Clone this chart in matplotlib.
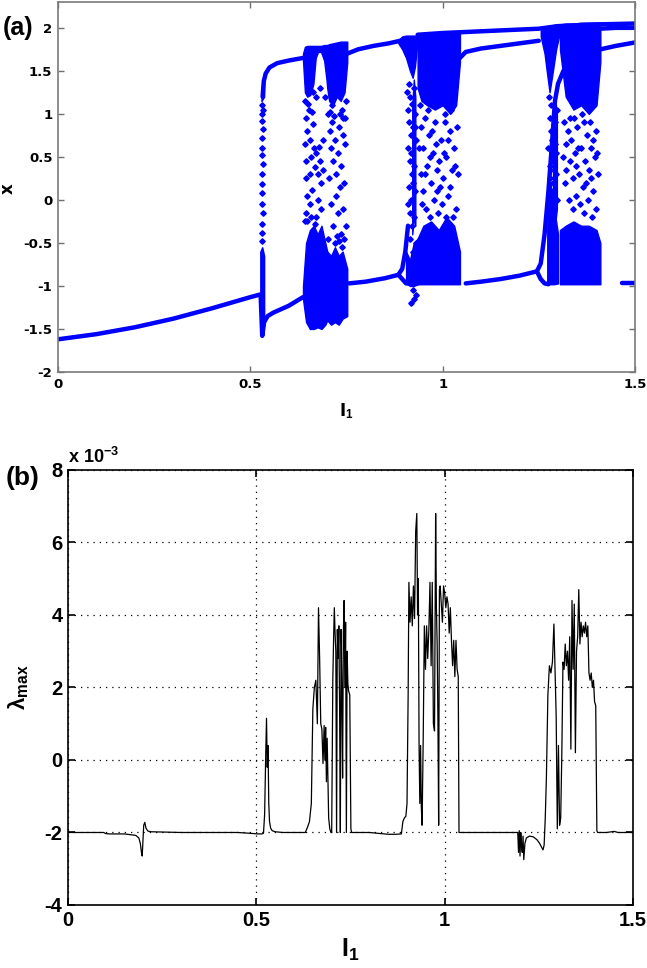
import matplotlib
matplotlib.use("Agg")
import matplotlib.pyplot as plt

plt.rcParams["mathtext.fontset"] = "custom"
plt.rcParams["mathtext.rm"] = "Liberation Sans:bold"
plt.rcParams["mathtext.bf"] = "Liberation Sans:bold"
plt.rcParams["mathtext.it"] = "Liberation Sans:bold"
plt.rcParams["mathtext.default"] = "bf"

BLUE = "#0000FF"

# ---------------- (a) bifurcation diagram: periodic branches ----------------
br_low1_x = [0.000, 0.100, 0.200, 0.300, 0.400, 0.500, 0.525]
br_low1_y = [-1.62, -1.56, -1.48, -1.38, -1.26, -1.13, -1.10]
br_low2_x = [0.527, 0.531, 0.536, 0.545, 0.560, 0.600, 0.637]
br_low2_y = [-1.12, -1.58, -1.42, -1.35, -1.31, -1.23, -1.13]
br_up1_x = [0.532, 0.535, 0.540, 0.550, 0.570, 0.600, 0.637]
br_up1_y = [1.20, 1.38, 1.47, 1.54, 1.59, 1.62, 1.65]
br_up2_x = [0.752, 0.780, 0.820, 0.860, 0.890]
br_up2_y = [1.70, 1.75, 1.79, 1.82, 1.85]
br_low3_x = [0.757, 0.800, 0.850, 0.885, 0.895, 0.905, 0.935]
br_low3_y = [-0.97, -0.95, -0.91, -0.87, -0.92, -0.97, -0.97]
br_loop2_x = [0.885, 0.895, 0.903, 0.910]
br_loop2_y = [-0.87, -0.80, -0.60, -0.30]
br_top_x = [0.935, 1.000, 1.050, 1.100, 1.150, 1.200, 1.250, 1.300, 1.400, 1.500]
br_top_y = [1.92, 1.94, 1.95, 1.96, 1.97, 1.98, 1.99, 2.02, 2.04, 2.05]
br_up3_x = [1.045, 1.060, 1.100, 1.150, 1.200, 1.250]
br_up3_y = [1.65, 1.72, 1.76, 1.79, 1.82, 1.85]
br_low4_x = [1.060, 1.100, 1.150, 1.200, 1.245, 1.255, 1.265, 1.275]
br_low4_y = [-0.97, -0.95, -0.92, -0.88, -0.83, -0.92, -0.97, -0.98]
br_loop3_x = [1.245, 1.255, 1.265, 1.275, 1.285, 1.292, 1.300, 1.314, 1.330, 1.357, 1.400, 1.450, 1.500]
br_loop3_y = [-0.83, -0.74, -0.40, 0.10, 0.70, 1.15, 1.35, 1.50, 1.58, 1.66, 1.74, 1.79, 1.83]
br_up4_x = [1.410, 1.450, 1.500]
br_up4_y = [1.99, 2.00, 2.00]
br_low5_x = [1.465, 1.500]
br_low5_y = [-0.97, -0.97]

# ---------------- (a) dense chaotic bands (x, lower, upper) ----------------
bd_c0a_x = [0.526, 0.531, 0.536]
bd_c0a_lo = [-1.50, -1.58, -1.45]
bd_c0a_hi = [-0.60, -0.55, -0.65]
bd_c0b_x = [0.529, 0.536]
bd_c0b_lo = [1.15, 1.20]
bd_c0b_hi = [1.30, 1.40]
bd_1t_x = [0.637, 0.642, 0.648, 0.656, 0.664, 0.670, 0.676, 0.684, 0.692, 0.698, 0.700]
bd_1t_lo = [1.62, 1.25, 1.20, 1.22, 1.35, 1.65, 1.72, 1.72, 1.62, 1.40, 1.30]
bd_1t_hi = [1.70, 1.78, 1.79, 1.79, 1.79, 1.79, 1.79, 1.79, 1.80, 1.80, 1.80]
bd_2t_x = [0.700, 0.705, 0.715, 0.725, 0.735, 0.745, 0.752]
bd_2t_lo = [1.30, 1.15, 1.10, 1.20, 1.15, 1.25, 1.60]
bd_2t_hi = [1.80, 1.81, 1.82, 1.83, 1.84, 1.84, 1.84]
bd_1b_x = [0.637, 0.645, 0.655, 0.665, 0.675, 0.685, 0.695, 0.700]
bd_1b_lo = [-1.15, -1.42, -1.50, -1.50, -1.48, -1.50, -1.45, -1.40]
bd_1b_hi = [-1.00, -0.50, -0.35, -0.30, -0.40, -0.30, -0.50, -0.60]
bd_2b_x = [0.700, 0.710, 0.720, 0.730, 0.740, 0.752]
bd_2b_lo = [-1.40, -1.45, -1.42, -1.45, -1.38, -1.35]
bd_2b_hi = [-0.60, -0.65, -0.55, -0.65, -0.60, -0.80]
bd_3d_x = [0.885, 0.895, 0.905, 0.915, 0.922, 0.928, 0.935]
bd_3d_lo = [1.82, 1.75, 1.65, 1.50, 1.42, 1.55, 1.85]
bd_3d_hi = [1.86, 1.90, 1.91, 1.91, 1.91, 1.91, 1.91]
bd_3t_x = [0.935, 0.945, 0.960, 0.980, 1.000, 1.020, 1.035, 1.045]
bd_3t_lo = [1.30, 1.15, 1.10, 1.05, 1.10, 1.00, 1.10, 1.60]
bd_3t_hi = [1.91, 1.92, 1.92, 1.93, 1.93, 1.93, 1.94, 1.94]
bd_3c_x = [0.905, 0.915, 0.925, 0.935]
bd_3c_lo = [-0.97, -1.00, -1.00, -0.98]
bd_3c_hi = [-0.60, -0.70, -0.50, -0.45]
bd_3s_x = [0.921, 0.925, 0.929]
bd_3s_lo = [-0.40, -0.20, -0.30]
bd_3s_hi = [1.10, 1.40, 1.20]
bd_3b_x = [0.935, 0.950, 0.970, 0.990, 1.010, 1.030, 1.045]
bd_3b_lo = [-0.98, -0.98, -0.98, -0.98, -0.98, -0.98, -0.98]
bd_3b_hi = [-0.45, -0.30, -0.25, -0.35, -0.20, -0.30, -0.60]
bd_4d_x = [1.255, 1.265, 1.272, 1.278, 1.285, 1.295, 1.305]
bd_4d_lo = [1.90, 1.70, 1.45, 1.25, 1.45, 1.75, 1.95]
bd_4d_hi = [1.97, 2.00, 2.02, 2.02, 2.03, 2.04, 2.04]
bd_4c_x = [1.272, 1.280, 1.290, 1.300]
bd_4c_lo = [-0.97, -0.98, -0.98, -0.97]
bd_4c_hi = [-0.30, 0.20, -0.10, -0.40]
bd_4s_x = [1.287, 1.292, 1.297]
bd_4s_lo = [-0.20, -0.30, -0.10]
bd_4s_hi = [0.90, 1.20, 1.00]
bd_4t_x = [1.305, 1.320, 1.340, 1.360, 1.380, 1.400, 1.410]
bd_4t_lo = [1.75, 1.20, 1.05, 1.10, 1.00, 1.10, 1.60]
bd_4t_hi = [2.04, 2.05, 2.05, 2.06, 2.06, 2.06, 2.06]
bd_4b_x = [1.305, 1.320, 1.340, 1.360, 1.380, 1.400, 1.410]
bd_4b_lo = [-0.98, -0.98, -0.98, -0.98, -0.98, -0.98, -0.98]
bd_4b_hi = [-0.35, -0.30, -0.25, -0.30, -0.30, -0.35, -0.50]

# ---------------- (a) sparse chaotic points ----------------
dots0_x = [0.530, 0.531, 0.530, 0.532, 0.531, 0.530, 0.531, 0.532, 0.530, 0.531, 0.531, 0.530, 0.532, 0.531, 0.530, 0.531, 0.532]
dots0_y = [1.10, 1.00, 0.92, 0.82, 0.72, 0.60, 0.52, 0.42, 0.30, 0.18, 0.08, -0.05, -0.15, -0.28, -0.38, -0.48, 1.05]
dots1_x = [0.642, 0.645, 0.648, 0.643, 0.646, 0.644, 0.648, 0.645, 0.652, 0.655, 0.658, 0.654, 0.660, 0.656,
           0.662, 0.665, 0.668, 0.672, 0.675, 0.678, 0.682, 0.685, 0.688, 0.676, 0.683, 0.690, 0.672,
           0.703, 0.706, 0.710, 0.713, 0.716, 0.720, 0.724, 0.727, 0.730, 0.733, 0.736, 0.740, 0.743,
           0.746, 0.705, 0.709, 0.715, 0.722, 0.728, 0.735, 0.742, 0.748, 0.712, 0.738, 0.745,
           0.650, 0.660, 0.670, 0.680, 0.708, 0.718, 0.732, 0.741, 0.750, 0.641, 0.663, 0.694,
           0.647, 0.657, 0.667, 0.702, 0.719, 0.731, 0.744, 0.739, 0.725]
dots1_y = [1.15, 0.95, 0.80, 0.65, 0.45, 0.25, 0.05, -0.15, 1.05, 0.70, 0.50, 0.30, 0.12, -0.05,
           0.88, 0.60, 0.38, 0.55, 0.30, 0.62, 0.45, 0.20, 0.70, 0.00, -0.10, 0.35, -0.20,
           1.00, 0.80, 0.60, 0.90, 0.45, 0.70, 0.30, 0.55, 0.85, 0.15, 0.40, 0.75, 0.20,
           0.65, 0.25, -0.05, -0.30, 0.05, -0.15, -0.40, -0.10, -0.30, 1.10, 1.05, 0.95,
           1.12, 1.02, 1.20, 1.30, 1.02, 0.98, 1.00, 0.95, 1.15, -0.25, 1.25, 1.20,
           -0.25, -0.20, -0.28, -0.45, -0.50, -0.48, -0.45, -0.55, -0.42]
dots2_x = [0.912, 0.915, 0.910, 0.913, 0.917, 0.911, 0.916, 0.920, 0.912, 0.918, 0.914, 0.920, 0.916,
           0.922, 0.925, 0.927, 0.930, 0.926, 0.929, 0.925, 0.930, 0.924, 0.922, 0.926, 0.930, 0.918,
           0.940, 0.945, 0.950, 0.955, 0.960, 0.965, 0.970, 0.975, 0.980, 0.985, 0.990, 0.995,
           1.000, 1.005, 1.010, 1.015, 1.020, 1.025, 1.030, 1.035, 1.040, 0.948, 0.958, 0.968,
           0.978, 0.988, 0.998, 1.008, 1.018, 1.028, 0.943, 0.963, 0.983, 1.003, 1.023, 1.038,
           0.908, 0.921, 0.928, 0.919, 0.909, 0.923,
           0.953, 0.973, 0.993, 1.013, 1.033, 0.938, 0.946, 0.966, 0.986, 1.006]
dots2_y = [1.35, 1.20, 1.05, 0.90, 0.75, 0.60, 0.45, 0.30, 0.15, 0.00, -0.15, -0.30, -0.45,
           -0.60, 1.30, 1.00, 0.70, 0.40, 0.10, -0.20, -0.50, 0.85, -1.05, -1.15, -1.10, -1.20,
           1.10, 0.85, 0.60, 0.95, 0.40, 0.75, 0.20, 0.55, 0.90, 0.10, 0.45, 0.70,
           0.25, 1.00, 0.50, 0.05, 0.80, 0.35, 0.60, -0.10, 0.30, 0.10, -0.10, -0.20,
           0.00, -0.15, -0.05, -0.20, 0.15, -0.20, 0.30, 1.05, 0.65, 0.55, 1.05, 0.85,
           1.25, 1.12, 0.85, 0.55, -0.05, 0.20,
           0.30, 0.80, 0.15, 0.70, 0.40, 0.60, -0.05, 0.50, 0.35, 0.90]
dots3_x = [1.276, 1.280, 1.284, 1.288, 1.292, 1.296, 1.278, 1.286, 1.294, 1.282, 1.290, 1.298,
           1.315, 1.320, 1.325, 1.330, 1.335, 1.340, 1.345, 1.350, 1.355, 1.360, 1.365, 1.370,
           1.375, 1.380, 1.385, 1.390, 1.395, 1.400, 1.405, 1.318, 1.328, 1.338, 1.348, 1.358,
           1.368, 1.378, 1.388, 1.398, 1.342, 1.362, 1.382, 1.402,
           1.274, 1.279, 1.283, 1.287, 1.291, 1.297,
           1.312, 1.322, 1.332, 1.352, 1.372, 1.392, 1.347, 1.367, 1.387]
dots3_y = [1.20, 0.95, 0.70, 0.45, 0.90, 0.30, 0.25, 0.10, 0.55, 0.80, 0.35, 0.00,
           0.90, 0.65, 0.80, 0.45, 0.70, 0.25, 0.55, 0.85, 0.30, 0.60, 0.15, 0.45,
           0.75, 0.35, 0.60, 0.10, 0.50, 0.80, 0.30, 0.20, 0.00, -0.10, 0.05, -0.05,
           -0.15, 0.00, -0.20, -0.10, 0.95, 1.00, 0.90, 0.55,
           0.60, 0.40, 1.10, 0.20, 0.65, 1.05,
           0.50, 0.35, 0.95, 0.60, 0.20, 0.70, 0.40, 0.90, 0.25]

# ---------------- (b) largest Lyapunov exponent (x 1e-3) ----------------
lamA_x = [0.000, 0.095, 0.100, 0.110, 0.150, 0.180, 0.188, 0.192, 0.195, 0.197, 0.199, 0.201, 0.204, 0.207, 0.212, 0.220, 0.260, 0.300]
lamA_y = [-2.00, -2.00, -2.03, -2.04, -2.04, -2.08, -2.15, -2.30, -2.55, -2.65, -2.20, -1.80, -1.72, -1.88, -1.96, -1.98, -1.99, -2.00]
lamB_x = [0.400, 0.450, 0.480, 0.505, 0.515, 0.519, 0.522, 0.525, 0.527, 0.529, 0.531, 0.533, 0.535, 0.538, 0.542, 0.550, 0.570, 0.600, 0.630]
lamB_y = [-2.00, -2.00, -2.02, -2.04, -2.04, -2.02, -1.50, 0.20, 1.15, -0.20, 0.40, -1.20, -1.70, -1.88, -1.95, -1.98, -2.00, -2.00, -2.00]
lamC_x = [0.636, 0.641, 0.646, 0.650, 0.654, 0.658, 0.662, 0.665, 0.668, 0.671, 0.674, 0.677, 0.680, 0.682, 0.684, 0.686, 0.688, 0.690, 0.692, 0.695, 0.698]
lamC_y = [-1.85, -1.70, -1.20, 1.40, 2.00, 2.20, 1.00, 4.20, 2.80, 1.00, 0.85, -0.10, 0.95, 0.00, 0.90, -0.60, 0.60, -0.50, -1.60, -1.90, -2.00]
lamD_x = [0.700, 0.703, 0.705, 0.707, 0.709, 0.711, 0.713, 0.715, 0.717, 0.719, 0.721, 0.723, 0.725, 0.727, 0.729, 0.731,
          0.733, 0.735, 0.737, 0.739, 0.741, 0.743, 0.745, 0.748, 0.751, 0.753, 0.760, 0.800, 0.850, 0.870, 0.885]
lamD_y = [-2.00, 2.20, 3.30, 4.20, 3.50, 3.00, -2.00, 3.60, 2.80, 3.70, 1.50, -2.00, 3.60, 2.00, -0.50, 3.50,
          4.40, 2.00, 3.80, -2.00, 3.00, 2.10, 1.90, 1.80, -1.90, -2.00, -2.00, -2.00, -2.05, -2.05, -2.04]
lamE_x = [0.889, 0.893, 0.897, 0.900, 0.903, 0.905, 0.908, 0.911, 0.914, 0.917, 0.920, 0.923, 0.926, 0.928,
          0.930, 0.932, 0.934, 0.936, 0.938, 0.940, 0.943, 0.946, 0.949]
lamE_y = [-1.70, -1.60, -1.55, -1.20, 1.80, 4.90, 3.80, 4.50, 3.70, 4.80, 3.90, 6.30, 6.80, 4.00,
          5.00, 0.40, -1.20, 0.40, -1.30, -1.80, 0.60, 3.70, 2.50]
lamF_x = [0.952, 0.955, 0.958, 0.961, 0.964, 0.967, 0.970, 0.973, 0.976, 0.978, 0.980, 0.982, 0.984, 0.986, 0.988,
          0.991, 0.994, 0.997, 1.000, 1.003, 1.006, 1.009, 1.012, 1.015, 1.018, 1.021, 1.024, 1.027, 1.030,
          1.033, 1.036, 1.038, 1.045, 1.100, 1.150, 1.190]
lamF_y = [3.70, 2.80, 3.60, 4.90, 2.60, 4.90, 1.00, 0.80, 6.80, 4.20, 3.20, 1.20, -1.80, 4.70, 4.80,
          4.30, 3.80, 4.80, 4.60, 4.20, 4.50, 4.30, 3.50, 4.20, 3.30, 2.60, 3.30, 2.30, 3.30,
          2.50, 2.30, -2.00, -2.00, -2.00, -2.00, -2.00]
lamG_x = [1.194, 1.196, 1.198, 1.200, 1.202, 1.204, 1.206, 1.208, 1.210, 1.213, 1.217, 1.225, 1.235, 1.245, 1.252,
          1.257, 1.261, 1.264, 1.267]
lamG_y = [-2.00, -2.55, -1.95, -2.65, -2.00, -2.40, -2.55, -2.10, -2.75, -2.30, -2.15, -2.10, -2.12, -2.20, -2.30,
          -2.40, -2.48, -2.35, -1.60]
lamH_x = [1.270, 1.274, 1.278, 1.282, 1.286, 1.290, 1.293, 1.296, 1.299, 1.302, 1.305, 1.308, 1.311, 1.314,
          1.317, 1.320, 1.323, 1.326, 1.329, 1.332, 1.335, 1.338, 1.341, 1.344, 1.347]
lamH_y = [-0.50, 1.80, 2.60, 2.40, 2.70, 3.75, 2.50, 1.20, -1.90, 0.40, -1.80, -1.60, 0.20, 2.70,
          2.50, 3.20, 2.60, 3.00, 2.20, 3.40, 0.30, 4.40, 2.50, 4.30, 0.20]
lamI_x = [1.350, 1.353, 1.356, 1.359, 1.362, 1.365, 1.368, 1.371, 1.374, 1.377, 1.380, 1.383, 1.386, 1.389,
          1.392, 1.395, 1.398, 1.401, 1.404, 1.406, 1.430, 1.450, 1.460, 1.500]
lamI_y = [3.00, 3.40, 4.70, 3.20, 3.80, 3.40, 3.70, 3.50, 3.80, 3.40, 3.70, 2.40, 2.20, 2.40,
          2.00, 2.20, 1.60, 1.50, -1.95, -2.00, -2.00, -1.97, -2.00, -2.00]

x_ticks = [0, 0.5, 1, 1.5]
x_ticklabels = ["0", "0.5", "1", "1.5"]
a_yticks = [-2, -1.5, -1, -0.5, 0, 0.5, 1, 1.5, 2]
a_yticklabels = ["-2", "-1.5", "-1", "-0.5", "0", "0.5", "1", "1.5", "2"]
b_yticks = [-4, -2, 0, 2, 4, 6, 8]
b_yticklabels = ["-4", "-2", "0", "2", "4", "6", "8"]

# ============================ figure ============================
fig = plt.figure(figsize=(6.47, 9.68), dpi=100)

# ---- panel (a)
ax1 = fig.add_axes([0.0896, 0.6157, 0.8918, 0.3822])
branches = [(br_low1_x, br_low1_y), (br_low2_x, br_low2_y), (br_up1_x, br_up1_y),
            (br_up2_x, br_up2_y), (br_low3_x, br_low3_y), (br_loop2_x, br_loop2_y),
            (br_top_x, br_top_y), (br_up3_x, br_up3_y), (br_low4_x, br_low4_y),
            (br_loop3_x, br_loop3_y), (br_up4_x, br_up4_y), (br_low5_x, br_low5_y)]
for bx, by in branches:
    ax1.plot(bx, by, color=BLUE, lw=3.2, solid_capstyle="round", solid_joinstyle="round")

bands = [(bd_c0a_x, bd_c0a_lo, bd_c0a_hi), (bd_c0b_x, bd_c0b_lo, bd_c0b_hi),
         (bd_1t_x, bd_1t_lo, bd_1t_hi), (bd_2t_x, bd_2t_lo, bd_2t_hi),
         (bd_1b_x, bd_1b_lo, bd_1b_hi), (bd_2b_x, bd_2b_lo, bd_2b_hi),
         (bd_3d_x, bd_3d_lo, bd_3d_hi), (bd_3t_x, bd_3t_lo, bd_3t_hi),
         (bd_3c_x, bd_3c_lo, bd_3c_hi), (bd_3s_x, bd_3s_lo, bd_3s_hi),
         (bd_3b_x, bd_3b_lo, bd_3b_hi),
         (bd_4d_x, bd_4d_lo, bd_4d_hi), (bd_4c_x, bd_4c_lo, bd_4c_hi),
         (bd_4s_x, bd_4s_lo, bd_4s_hi),
         (bd_4t_x, bd_4t_lo, bd_4t_hi), (bd_4b_x, bd_4b_lo, bd_4b_hi)]
for bx, lo, hi in bands:
    ax1.fill_between(bx, lo, hi, color=BLUE, lw=1.0, edgecolor=BLUE)

for dx, dy in [(dots0_x, dots0_y), (dots1_x, dots1_y), (dots2_x, dots2_y), (dots3_x, dots3_y)]:
    ax1.plot(dx, dy, ls="none", marker="D", ms=2.8, color=BLUE, mec=BLUE)

ax1.set_xlim(0, 1.5)
ax1.set_ylim(-2, 2.3)
ax1.set_xticks(x_ticks)
ax1.set_yticks(a_yticks)
tick_font_a = dict(family="DejaVu Sans", weight="bold", size=9.5)
ax1.set_xticklabels(x_ticklabels, fontdict=tick_font_a)
ax1.set_yticklabels(a_yticklabels, fontdict=tick_font_a)
ax1.tick_params(direction="in", length=4, width=1, color="#707070", top=True, right=True, pad=4)
for s in ax1.spines.values():
    s.set_color("#7a7a7a")
    s.set_linewidth(1.2)
ax1.set_xlabel("I$_1$", family="DejaVu Sans", weight="bold", size=12, labelpad=8)
ax1.set_ylabel("x", family="DejaVu Sans", weight="bold", size=12, rotation=90)
ax1.yaxis.set_label_coords(-0.072, 0.497)

# ---- panel (b)
ax2 = fig.add_axes([0.1051, 0.0651, 0.8733, 0.4494])
lam_x = lamA_x + lamB_x + lamC_x + lamD_x + lamE_x + lamF_x + lamG_x + lamH_x + lamI_x
lam_y = lamA_y + lamB_y + lamC_y + lamD_y + lamE_y + lamF_y + lamG_y + lamH_y + lamI_y
ax2.plot(lam_x, lam_y, color="black", lw=0.9)
ax2.set_xlim(0, 1.5)
ax2.set_ylim(-4, 8)
ax2.set_xticks(x_ticks)
ax2.set_yticks(b_yticks)
tick_font_b = dict(family="Liberation Sans", weight="bold", size=14.5)
ax2.set_xticklabels(x_ticklabels, fontdict=tick_font_b)
ax2.set_yticklabels(b_yticklabels, fontdict=tick_font_b)
ax2.grid(True, ls=(0, (1, 4)), color="black", lw=0.9)
ax2.tick_params(direction="in", length=5, width=1.2, top=True, right=True, pad=4)
for s in ax2.spines.values():
    s.set_color("black")
    s.set_linewidth(1.2)
ax2.set_xlabel("I$_1$", family="Liberation Sans", weight="bold", size=18, labelpad=5)
ax2.set_ylabel("λ$_{max}$", family="Liberation Sans", weight="bold", size=16, labelpad=10)

fig.text(0.105, 0.522, "x 10$^{-3}$", family="Liberation Sans", weight="bold", size=13,
         ha="left", va="baseline")
fig.text(0.005, 0.964, "(a)", family="Liberation Sans", weight="bold", size=18, ha="left", va="baseline")
fig.text(0.008, 0.499, "(b)", family="Liberation Sans", weight="bold", size=19, ha="left", va="baseline")

fig.savefig("out.png", dpi=100)
